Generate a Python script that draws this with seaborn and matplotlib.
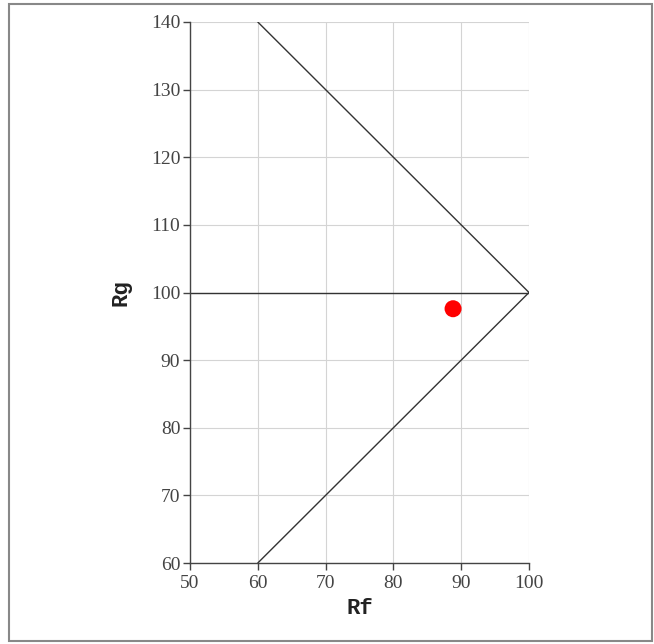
import matplotlib
matplotlib.use("Agg")
import matplotlib.pyplot as plt
import seaborn as sns
import pandas as pd
from matplotlib.patches import Rectangle

# data
upper_x = [60, 100]
upper_y = [140, 100]
lower_x = [100, 60]
lower_y = [100, 60]
mid_x = [50, 100]
mid_y = [100, 100]
point_rf = [88.8]
point_rg = [97.6]

sns.set_theme(style="whitegrid")
plt.rcParams['font.family'] = ['Liberation Serif', 'DejaVu Serif']

fig = plt.figure(figsize=(6.54, 6.44), dpi=100)
ax = fig.add_axes([190 / 654, 1 - 563 / 644, 339 / 654, 541 / 644])

# lines
for xs, ys in [(upper_x, upper_y), (lower_x, lower_y), (mid_x, mid_y)]:
    sns.lineplot(x=xs, y=ys, ax=ax, color='#333333', linewidth=1.0, sort=False)

df = pd.DataFrame({'Rf': point_rf, 'Rg': point_rg})
sns.scatterplot(data=df, x='Rf', y='Rg', ax=ax, color='#ff0000', s=150,
                edgecolor='none', zorder=5)

ax.set_xlim(50, 100)
ax.set_ylim(60, 140)
ax.set_xticks(range(50, 101, 10))
ax.set_yticks(range(60, 141, 10))
ax.grid(True, color='#d4d4d4', linewidth=0.8)
ax.set_facecolor('white')
for side in ['top', 'right']:
    ax.spines[side].set_visible(False)
for side in ['left', 'bottom']:
    ax.spines[side].set_color('#444444')
    ax.spines[side].set_linewidth(1.0)
ax.tick_params(axis='both', which='major', length=5, width=1, color='#444444',
               labelsize=14, labelcolor='#444444', direction='out',
               left=True, bottom=True, pad=2)
ax.tick_params(axis='x', pad=4)

ax.set_xlabel('Rf', family='Liberation Mono', fontweight='bold', fontsize=16,
              color='#222222', labelpad=4)
ax.set_ylabel('Rg', family='Liberation Mono', fontweight='bold', fontsize=16,
              color='#222222', labelpad=14)

# outer frame
fig.patches.append(Rectangle((9 / 654, 3 / 644), 643 / 654, 637 / 644,
                             transform=fig.transFigure, fill=False,
                             edgecolor='#888888', linewidth=1.5))

fig.savefig('out.png', dpi=100, facecolor='white')
